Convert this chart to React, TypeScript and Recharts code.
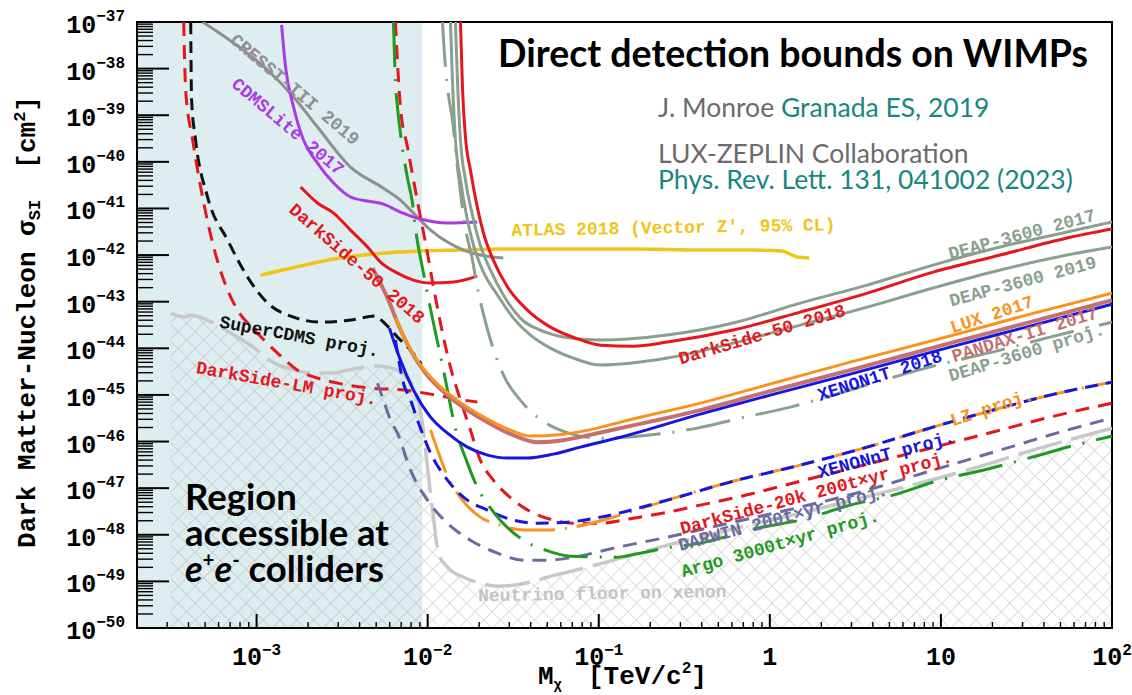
import React from "react";
import {
  ComposedChart,
  Line,
  Area,
  XAxis,
  YAxis,
  ReferenceArea,
  ReferenceDot,
} from "recharts";

const MONO = '"Liberation Mono", "DejaVu Sans Mono", monospace';
const LATO = 'Lato, "Noto Sans", sans-serif';

// WIMP mass in TeV/c^2, cross section in cm^2
const cresstMass = [4.84e-4, 7.34e-4, 1.16e-3, 1.645e-3, 2.27e-3, 3.54e-3, 5.37e-3, 6.93e-3, 8.26e-3, 1.04e-2, 1.305e-2, 1.62e-2, 2.03e-2, 2.77e-2];
const cresstSigma = [1e-37, 3.54e-38, 9.33e-39, 2.46e-39, 5.58e-40, 7.73e-41, 2.88e-41, 1.51e-41, 7.96e-42, 3.44e-42, 1.9e-42, 1.28e-42, 1.0e-42, 8.63e-43];

const cdmsMass = [1.4e-3, 1.477e-3, 1.645e-3, 1.88e-3, 2.27e-3, 2.82e-3, 3.54e-3, 4.45e-3, 5.52e-3, 6.93e-3, 9.08e-3, 1.305e-2, 1.95e-2];
const cdmsSigma = [8.63e-38, 1.08e-38, 1.5e-39, 2.94e-40, 9.42e-41, 3.51e-41, 1.76e-41, 1.44e-41, 1.24e-41, 8.37e-42, 5.93e-42, 4.86e-42, 5.11e-42];

const ds50LowMass = [1.81e-3, 2.27e-3, 2.82e-3, 3.54e-3, 4.45e-3, 5.3e-3, 6.66e-3, 8.26e-3, 1.04e-2, 1.415e-2, 1.95e-2];
const ds50LowSigma = [2.88e-41, 1.31e-41, 7.96e-42, 3.44e-42, 1.49e-42, 7.08e-43, 4.11e-43, 2.91e-43, 2.51e-43, 2.64e-43, 3.54e-43];

const ds50Mass = [1.555e-2, 1.597e-2, 1.663e-2, 1.778e-2, 1.95e-2, 2.12e-2, 2.42e-2, 2.93e-2, 3.83e-2, 5.22e-2, 7.3e-2, 0.1021, 0.159, 0.2517, 0.611, 1.505, 3.707, 9.0, 22.2, 54.6, 100];
const ds50Sigma = [1e-37, 4.03e-39, 3.4e-40, 6.67e-41, 1.07e-41, 2.96e-42, 7.82e-43, 2.06e-43, 6.61e-44, 2.85e-44, 1.66e-44, 1.17e-44, 1.11e-44, 1.36e-44, 2.46e-44, 5.98e-44, 1.53e-43, 4.32e-43, 1.0e-42, 2.32e-42, 3.61e-42];

const deap17Mass = [1.453e-2, 1.493e-2, 1.555e-2, 1.663e-2, 1.827e-2, 2.03e-2, 2.33e-2, 2.77e-2, 3.48e-2, 4.88e-2, 6.82e-2, 0.1021, 0.2517, 0.611, 1.505, 3.707, 9.0, 22.2, 54.6, 100];
const deap17Sigma = [1e-37, 5.69e-39, 2.94e-40, 4.07e-41, 7.21e-42, 1.64e-42, 4.77e-43, 1.39e-43, 4.45e-44, 2.23e-44, 1.66e-44, 1.5e-44, 1.92e-44, 3.48e-44, 9.33e-44, 2.27e-43, 6.1e-43, 1.49e-42, 3.12e-42, 5.11e-42];

const deap19Mass = [1.359e-2, 1.396e-2, 1.453e-2, 1.555e-2, 1.685e-2, 1.851e-2, 2.12e-2, 2.557e-2, 3.17e-2, 3.99e-2, 5.22e-2, 7.11e-2, 0.1021, 0.2517, 0.611, 1.505, 3.707, 9.0, 22.2, 54.6, 100];
const deap19Sigma = [1e-37, 5.69e-39, 2.94e-40, 4.07e-41, 7.21e-42, 1.64e-42, 4.32e-43, 1.39e-43, 4.45e-44, 1.92e-44, 1.01e-44, 6.17e-45, 4.37e-45, 6.17e-45, 1.29e-44, 3.15e-44, 7.66e-44, 1.96e-43, 4.77e-43, 1.0e-42, 1.49e-42];

const deapProjMass = [1.22e-2, 1.27e-2, 1.323e-2, 1.396e-2, 1.493e-2, 1.555e-2, 1.62e-2, 1.827e-2, 1.95e-2, 2.09e-2, 2.49e-2, 2.85e-2, 3.48e-2, 5.58e-2, 0.1021, 0.192, 0.377, 0.671, 1.315, 2.344, 4.41, 9.0, 22.2, 43.4, 100];
const deapProjSigma = [1e-37, 1.08e-38, 2.71e-39, 7.89e-40, 7.73e-41, 2.25e-41, 6.53e-42, 7.82e-43, 2.06e-43, 6.61e-44, 7.14e-45, 2.18e-45, 7.73e-46, 1.94e-46, 1.18e-46, 1.37e-46, 1.94e-46, 3.18e-46, 5.47e-46, 9.9e-46, 1.98e-45, 4.15e-45, 9.14e-45, 1.74e-44, 3.65e-44];

const atlasMass = [1.055e-3, 1.81e-3, 2.82e-3, 4.82e-3, 9.08e-3, 1.555e-2, 2.66e-2, 5.97e-2, 0.175, 0.392, 0.768, 1.18, 1.315, 1.445, 1.7];
const atlasSigma = [3.72e-43, 5.81e-43, 8.2e-43, 1.05e-42, 1.22e-42, 1.28e-42, 1.35e-42, 1.35e-42, 1.35e-42, 1.28e-42, 1.28e-42, 1.22e-42, 1.05e-42, 9.06e-43, 8.63e-43];

const superCdmsMass = [4.12e-4, 4.17e-4, 4.4e-4, 5.17e-4, 6.77e-4, 8.86e-4, 1.16e-3, 1.645e-3, 2.365e-3, 3.54e-3, 4.89e-3, 5.59e-3, 6.66e-3, 7.94e-3, 9.2e-3];
const superCdmsSigma = [1e-37, 2.12e-39, 2.94e-40, 1.76e-41, 2.1e-42, 3.37e-43, 9.33e-44, 4.68e-44, 3.65e-44, 4.03e-44, 4.91e-44, 3.48e-44, 1.74e-44, 9.14e-45, 4.58e-45];

const dsLmMass = [3.75e-4, 3.85e-4, 4.23e-4, 4.71e-4, 5.61e-4, 6.59e-4, 7.74e-4, 9.73e-4, 1.326e-3, 1.736e-3, 2.27e-3, 2.97e-3, 4.63e-3, 7.32e-3, 1.04e-2, 1.493e-2, 1.95e-2];
const dsLmSigma = [1e-37, 3.48e-39, 2.94e-40, 2.88e-41, 1.49e-42, 2.27e-43, 6.61e-44, 2.46e-44, 7.89e-45, 3.4e-45, 2.29e-45, 1.79e-45, 1.4e-45, 1.27e-45, 1.04e-45, 8.13e-46, 7.02e-46];

const argoMass = [6.31e-3, 6.48e-3, 6.66e-3, 6.93e-3, 7.62e-3, 8.15e-3, 8.48e-3, 9.45e-3, 1.011e-2, 1.081e-2, 1.237e-2, 1.323e-2, 1.415e-2, 1.708e-2, 1.95e-2, 2.33e-2, 3.63e-2, 4.88e-2, 6.82e-2, 0.125, 0.175, 0.245, 0.392, 0.844, 1.505, 2.95, 5.26, 9.89, 17.6, 34.1, 60.8, 100];
const argoSigma = [1e-37, 5.16e-39, 1.5e-39, 4.15e-40, 4.49e-41, 1.31e-41, 3.79e-42, 4.11e-43, 1.14e-43, 3.48e-44, 3.4e-45, 9.9e-46, 2.88e-46, 3.44e-47, 1.05e-47, 3.72e-48, 7.66e-49, 4.68e-49, 3.48e-49, 3.3e-49, 4.03e-49, 5.16e-49, 6.61e-49, 1.39e-48, 2.06e-48, 4.32e-48, 7.08e-48, 1.49e-47, 2.43e-47, 4.62e-47, 8.38e-47, 1.31e-46];

const ds20kMass = [6.48e-3, 6.93e-3, 7.62e-3, 8.26e-3, 9.08e-3, 9.97e-3, 1.081e-2, 1.156e-2, 1.359e-2, 1.555e-2, 1.778e-2, 2.03e-2, 2.42e-2, 3.17e-2, 4.15e-2, 5.43e-2, 7.11e-2, 0.1021, 0.159, 0.2517, 0.392, 0.611, 1.505, 3.707, 11.3, 22.2, 43.4, 100];
const ds20kSigma = [1e-37, 1.5e-39, 2.08e-40, 4.07e-41, 6.53e-42, 1.1e-42, 2.06e-43, 5.69e-44, 3.95e-45, 7.73e-46, 1.76e-46, 3.99e-47, 1.49e-47, 5.53e-48, 2.91e-48, 2.06e-48, 1.77e-48, 1.77e-48, 2.27e-48, 3.05e-48, 4.32e-48, 6.11e-48, 1.41e-47, 3.27e-47, 9.25e-47, 1.76e-46, 3.34e-46, 6.67e-46];

const xenon1tMass = [5.98e-3, 6.93e-3, 8.26e-3, 1.04e-2, 1.305e-2, 1.708e-2, 2.24e-2, 2.93e-2, 3.83e-2, 5.43e-2, 7.81e-2, 0.134, 0.392, 1.005, 2.95, 11.3, 33.2, 100];
const xenon1tSigma = [2.71e-44, 5.58e-45, 1.27e-45, 3.34e-46, 1.51e-46, 7.59e-47, 5.11e-47, 4.41e-47, 4.41e-47, 5.37e-47, 7.59e-47, 1.24e-46, 3.87e-46, 9.9e-46, 2.79e-45, 1.06e-44, 2.99e-44, 8.87e-44];

const luxMass = [6.48e-3, 7.42e-3, 8.84e-3, 1.081e-2, 1.359e-2, 2.03e-2, 3.05e-2, 3.99e-2, 6.21e-2, 9.81e-2, 0.134, 0.392, 1.005, 2.95, 11.3, 33.2, 100];
const luxSigma = [4.45e-44, 1.5e-44, 5.06e-45, 2.08e-45, 9.9e-46, 3.69e-46, 1.76e-46, 1.31e-46, 1.44e-46, 1.94e-46, 2.61e-46, 6.67e-46, 1.71e-45, 5.06e-45, 1.83e-44, 5.42e-44, 1.53e-43];

const pandaxMass = [4.76e-3, 5.9e-3, 6.75e-3, 7.94e-3, 9.71e-3, 1.305e-2, 2.03e-2, 3.17e-2, 4.38e-2, 6.21e-2, 9.81e-2, 0.134, 0.392, 1.005, 2.95, 11.3, 33.2, 100];
const pandaxSigma = [5.26e-43, 1.08e-43, 3.15e-44, 9.14e-45, 2.94e-45, 9.9e-46, 3.18e-46, 1.37e-46, 9.7e-47, 1.07e-46, 1.51e-46, 1.94e-46, 4.72e-46, 1.21e-45, 3.4e-45, 1.29e-44, 3.65e-44, 1.08e-43];

const xenonNtMass = [6.48e-3, 7.22e-3, 7.94e-3, 8.72e-3, 1.04e-2, 1.305e-2, 1.62e-2, 2.24e-2, 3.17e-2, 4.38e-2, 6.56e-2, 0.1021, 0.2517, 0.611, 1.505, 3.707, 9.0, 22.2, 43.4, 100];
const xenonNtSigma = [1.5e-44, 1.79e-45, 7.73e-46, 2.88e-46, 5.64e-47, 1.49e-47, 6.41e-48, 3.37e-48, 2.06e-48, 1.77e-48, 1.86e-48, 2.39e-48, 5.53e-48, 1.41e-47, 3.12e-47, 7.59e-47, 2.04e-46, 5.21e-46, 9.9e-46, 1.88e-45];

const lzMass = [1.04e-2, 1.188e-2, 1.323e-2, 1.597e-2, 2.03e-2, 2.66e-2, 3.63e-2, 5.01e-2, 7.11e-2, 0.1217, 0.2517, 0.611, 1.505, 3.707, 9.0, 22.2, 43.4, 100];
const lzSigma = [1.76e-46, 4.41e-47, 1.64e-47, 5.53e-48, 2.39e-48, 1.61e-48, 1.26e-48, 1.26e-48, 1.46e-48, 2.39e-48, 5.53e-48, 1.41e-47, 3.12e-47, 7.59e-47, 2.04e-46, 5.21e-46, 9.9e-46, 1.88e-45];

const darwinMass = [5.09e-3, 5.59e-3, 6.06e-3, 6.66e-3, 7.94e-3, 9.97e-3, 1.305e-2, 1.778e-2, 2.557e-2, 3.63e-2, 5.01e-2, 7.11e-2, 0.1217, 0.2517, 0.611, 1.505, 3.707, 9.0, 22.2, 54.6, 100];
const darwinSigma = [1.79e-45, 6.67e-46, 2.88e-46, 1.51e-46, 2.43e-47, 5.53e-48, 1.77e-48, 7.66e-49, 4.03e-49, 2.85e-49, 2.85e-49, 3.3e-49, 5.16e-49, 8.87e-49, 1.86e-48, 3.91e-48, 9.06e-48, 2.43e-47, 6.55e-47, 1.76e-46, 3.18e-46];

const floorMass = [3.15e-4, 3.8e-4, 4.12e-4, 5.17e-4, 6.16e-4, 7.74e-4, 9.73e-4, 1.084e-3, 1.274e-3, 1.517e-3, 1.907e-3, 2.27e-3, 2.71e-3, 3.4e-3, 4.27e-3, 4.89e-3, 5.82e-3, 6.66e-3, 7.62e-3, 8.72e-3, 9.32e-3, 9.97e-3, 1.081e-2, 1.156e-2, 1.305e-2, 1.62e-2, 2.03e-2, 2.557e-2, 3.17e-2, 3.99e-2, 5.01e-2, 6.56e-2, 8.58e-2, 0.134, 0.2517, 0.671, 1.505, 5.78, 14.2, 34.5, 100];
const floorSigma = [5.69e-44, 4.68e-44, 5.15e-44, 4.03e-44, 2.85e-44, 1.74e-44, 1.01e-44, 7.14e-45, 4.81e-45, 3.76e-45, 3.08e-45, 2.94e-45, 2.94e-45, 3.4e-45, 3.95e-45, 4.15e-45, 3.95e-45, 3.4e-45, 2.29e-45, 8.53e-46, 2.48e-46, 2.82e-47, 2.39e-48, 4.03e-49, 2.02e-49, 1.23e-49, 9.14e-50, 7.89e-50, 8.3e-50, 9.62e-50, 1.23e-49, 1.58e-49, 2.02e-49, 3.15e-49, 5.98e-49, 1.46e-48, 2.91e-48, 1.0e-47, 2.43e-47, 6.55e-47, 1.94e-46];

// e+e- collider reach (shaded band)
const colliderMass = [2e-4, 9.3e-3];
const colliderSigma = [1e-37, 1e-37];

// axis ticks
const xMajorTicks = [1e-3, 1e-2, 1e-1, 1, 10, 100];
const xMinorDecades = [-4, -3, -2, -1, 0, 1];
const yMajorExponents = [-37, -38, -39, -40, -41, -42, -43, -44, -45, -46, -47, -48, -49, -50];
const minorSteps = [2, 3, 4, 5, 6, 7, 8, 9];

const X_DOMAIN: [number, number] = [2e-4, 100];
const Y_DOMAIN: [number, number] = [1e-50, 1e-37];

const xTicks = [
  ...xMajorTicks,
  ...xMinorDecades.flatMap((d) => minorSteps.map((k) => k * Math.pow(10, d))).filter((v) => v > 2.05e-4 && v < 100),
];
const yTicks = [
  ...yMajorExponents.map((e) => Math.pow(10, e)),
  ...yMajorExponents.slice(1).flatMap((e) => minorSteps.map((k) => k * Math.pow(10, e))),
];

const GRAY = "#8f8f8f";
const PURPLE = "#a93be6";
const RED = "#e5161c";
const GOLD = "#f2c318";
const DEAP = "#8aa08f";
const BLUE = "#1616e0";
const ORANGE = "#f7931e";
const ROSE = "#c57070";
const SLATE = "#6b6ba0";
const LIGHT = "#c8c8c8";
const GREEN = "#1f9a1f";
const TEAL = "#17877f";
const TEXTGRAY = "#6b6b6b";

const pts = (m: number[], s: number[]) => m.map((v, i) => ({ m: v, s: s[i] }));

type Curve = { id: string; m: number[]; s: number[]; color: string; width: number; dash?: string };

const curves: Curve[] = [
  { id: "floor", m: floorMass, s: floorSigma, color: LIGHT, width: 3.5, dash: "45 10" },
  { id: "atlas", m: atlasMass, s: atlasSigma, color: GOLD, width: 3.5 },
  { id: "cresst", m: cresstMass, s: cresstSigma, color: GRAY, width: 3 },
  { id: "cdms", m: cdmsMass, s: cdmsSigma, color: PURPLE, width: 3 },
  { id: "ds50low", m: ds50LowMass, s: ds50LowSigma, color: RED, width: 3 },
  { id: "supercdms", m: superCdmsMass, s: superCdmsSigma, color: "#111", width: 3, dash: "12 7" },
  { id: "dslm", m: dsLmMass, s: dsLmSigma, color: RED, width: 3, dash: "14 9" },
  { id: "deapproj", m: deapProjMass, s: deapProjSigma, color: DEAP, width: 3, dash: "45 12 2 12" },
  { id: "deap19", m: deap19Mass, s: deap19Sigma, color: DEAP, width: 3 },
  { id: "deap17", m: deap17Mass, s: deap17Sigma, color: DEAP, width: 3 },
  { id: "ds50", m: ds50Mass, s: ds50Sigma, color: RED, width: 3 },
  { id: "darwin", m: darwinMass, s: darwinSigma, color: SLATE, width: 3, dash: "14 9" },
  { id: "ds20k", m: ds20kMass, s: ds20kSigma, color: RED, width: 3, dash: "14 9" },
  { id: "lz", m: lzMass, s: lzSigma, color: ORANGE, width: 3, dash: "45 10 2 10" },
  { id: "xenonnt", m: xenonNtMass, s: xenonNtSigma, color: BLUE, width: 3, dash: "13 8" },
  { id: "argo", m: argoMass, s: argoSigma, color: GREEN, width: 3, dash: "45 12 2 12" },
  { id: "pandax", m: pandaxMass, s: pandaxSigma, color: ROSE, width: 4 },
  { id: "lux", m: luxMass, s: luxSigma, color: ORANGE, width: 3 },
  { id: "xenon1t", m: xenon1tMass, s: xenon1tSigma, color: BLUE, width: 3 },
];

const curveLabels = [
  { text: "CRESST-III 2019", m: 1.667e-3, s: 3.48e-39, angle: 40, color: GRAY },
  { text: "CDMSLite 2017", m: 1.517e-3, s: 5.58e-40, angle: 40, color: PURPLE },
  { text: "DarkSide-50 2018", m: 3.84e-3, s: 6.41e-43, angle: 41, color: RED },
  { text: "SuperCDMS proj.", m: 1.78e-3, s: 1.74e-44, angle: 10.5, color: "#111" },
  { text: "DarkSide-LM proj.", m: 1.5e-3, s: 1.71e-45, angle: 10, color: RED },
  { text: "ATLAS 2018 (Vector Z', 95% CL)", m: 0.273, s: 3.79e-42, angle: -1, color: GOLD },
  { text: "DEAP-3600 2017", m: 29.8, s: 2.69e-42, angle: -15, color: DEAP },
  { text: "DEAP-3600 2019", m: 30.2, s: 2.64e-43, angle: -15, color: DEAP },
  { text: "LUX 2017", m: 19.9, s: 5.15e-44, angle: -18, color: ORANGE },
  { text: "PANDAX-II 2017", m: 31.0, s: 1.92e-44, angle: -17, color: ROSE },
  { text: "DEAP-3600 proj.", m: 31.8, s: 7.89e-45, angle: -17, color: DEAP },
  { text: "XENON1T 2018", m: 4.41, s: 2.53e-45, angle: -18, color: BLUE },
  { text: "DarkSide-50 2018", m: 0.903, s: 1.92e-44, angle: -16.5, color: RED },
  { text: "LZ proj.", m: 19.9, s: 5.21e-46, angle: -18, color: ORANGE },
  { text: "XENONnT proj.", m: 4.79, s: 5.11e-47, angle: -15, color: BLUE },
  { text: "DarkSide-20k 200t×yr proj.", m: 1.87, s: 7.82e-48, angle: -15, color: RED },
  { text: "DARWIN 200t×yr proj.", m: 1.197, s: 2.27e-48, angle: -15, color: SLATE },
  { text: "Argo 3000t×yr proj.", m: 1.15, s: 6.28e-49, angle: -16, color: GREEN },
  { text: "Neutrino floor on xenon", m: 0.105, s: 5.31e-50, angle: -1, color: "#c4c4c4" },
];

const isMajor = (v: number) => {
  const e = Math.log10(v);
  return Math.abs(e - Math.round(e)) < 1e-6;
};

// eslint-disable-next-line @typescript-eslint/no-explicit-any
function YTick({ x, y, payload }: any) {
  const major = isMajor(payload.value);
  const e = Math.round(Math.log10(payload.value));
  return (
    <g>
      <line x1={x} x2={x + (major ? 32 : 16)} y1={y} y2={y} stroke="#000" strokeWidth={major ? 2 : 1.4} />
      {major && (
        <text x={x - 12} y={y + 11} textAnchor="end" fontFamily={MONO} fontWeight="bold" fill="#000">
          <tspan fontSize={25}>10</tspan>
          <tspan fontSize={16} dy={-12}>{`−${-e}`}</tspan>
        </text>
      )}
    </g>
  );
}

// eslint-disable-next-line @typescript-eslint/no-explicit-any
function XTick({ x, y, payload }: any) {
  const major = isMajor(payload.value);
  const e = Math.round(Math.log10(payload.value));
  let label: React.ReactNode = null;
  if (major) {
    if (e === 0) label = <tspan fontSize={25}>1</tspan>;
    else if (e === 1) label = <tspan fontSize={25}>10</tspan>;
    else
      label = (
        <>
          <tspan fontSize={25}>10</tspan>
          <tspan fontSize={16} dy={-10}>{e < 0 ? `−${-e}` : `${e}`}</tspan>
        </>
      );
  }
  return (
    <g>
      <line x1={x} x2={x} y1={y} y2={y - (major ? 14 : 6)} stroke="#000" strokeWidth={major ? 2 : 1.4} />
      {major && (
        <text x={x} y={y + 37} textAnchor="middle" fontFamily={MONO} fontWeight="bold" fill="#000">
          {label}
        </text>
      )}
    </g>
  );
}

function labelShape(text: string, angle: number, color: string) {
  // eslint-disable-next-line @typescript-eslint/no-explicit-any
  return (p: any) => (
    <text
      x={p.cx}
      y={p.cy}
      transform={`rotate(${angle} ${p.cx} ${p.cy})`}
      textAnchor="middle"
      dominantBaseline="central"
      fontFamily={MONO}
      fontWeight="bold"
      fontSize={18}
      fill={color}
    >
      {text}
    </text>
  );
}

export default function App() {
  return (
    <div style={{ position: "absolute", left: 0, top: 0, width: 1132, height: 695, background: "#fff" }}>
      <ComposedChart width={1132} height={695} margin={{ top: 22, right: 20, bottom: 0, left: 0 }}>
        <defs>
          <pattern id="hatch" width="12" height="12" patternUnits="userSpaceOnUse" patternTransform="rotate(45)">
            <path d="M0 0 L12 0 M0 0 L0 12" stroke="rgba(130,130,130,0.35)" strokeWidth="1.6" />
          </pattern>
        </defs>
        <XAxis
          type="number"
          dataKey="m"
          scale="log"
          domain={X_DOMAIN}
          allowDataOverflow
          ticks={xTicks}
          interval={0}
          tick={XTick}
          tickLine={false}
          tickSize={0}
          tickMargin={0}
          axisLine={{ stroke: "#000", strokeWidth: 2 }}
          height={67}
        />
        <YAxis
          type="number"
          dataKey="s"
          scale="log"
          domain={Y_DOMAIN}
          allowDataOverflow
          ticks={yTicks}
          interval={0}
          tick={YTick}
          tickLine={false}
          tickSize={0}
          tickMargin={0}
          axisLine={{ stroke: "#000", strokeWidth: 2 }}
          width={137}
        />
        <Area
          data={pts(colliderMass, colliderSigma)}
          dataKey="s"
          type="linear"
          stroke="none"
          fill="#deeef0"
          fillOpacity={1}
          baseValue={1e-50}
          isAnimationActive={false}
          dot={false}
          activeDot={false}
        />
        <Area
          data={pts(floorMass, floorSigma)}
          dataKey="s"
          type="monotone"
          stroke="none"
          fill="url(#hatch)"
          fillOpacity={1}
          baseValue={1e-50}
          isAnimationActive={false}
          dot={false}
          activeDot={false}
        />
        {curves.map((c) => (
          <Line
            key={c.id}
            data={pts(c.m, c.s)}
            dataKey="s"
            type="monotone"
            stroke={c.color}
            strokeWidth={c.width}
            strokeDasharray={c.dash}
            dot={false}
            activeDot={false}
            isAnimationActive={false}
          />
        ))}
        <ReferenceArea
          x1={X_DOMAIN[0]}
          x2={X_DOMAIN[1]}
          y1={Y_DOMAIN[0]}
          y2={Y_DOMAIN[1]}
          fill="none"
          fillOpacity={0}
          stroke="#000"
          strokeWidth={2}
        />
        {curveLabels.map((l, i) => (
          <ReferenceDot key={i} x={l.m} y={l.s} r={0} shape={labelShape(l.text, l.angle, l.color)} />
        ))}
      </ComposedChart>

      <svg width={1132} height={695} style={{ position: "absolute", left: 0, top: 0, pointerEvents: "none" }}>
        <text x={498} y={67} fontFamily={LATO} fontWeight={700} fontSize={37.5} fill="#000">
          Direct detection bounds on WIMPs
        </text>
        <text x={658} y={117} fontFamily={LATO} fontSize={26.5} style={{ whiteSpace: "pre" }}>
          <tspan fill={TEXTGRAY}>J. Monroe </tspan>
          <tspan fill={TEAL}>Granada ES, 2019</tspan>
        </text>
        <text x={658} y={163} fontFamily={LATO} fontSize={26.5} fill={TEXTGRAY}>
          LUX-ZEPLIN Collaboration
        </text>
        <text x={658} y={189} fontFamily={LATO} fontSize={26.5} fill={TEAL}>
          Phys. Rev. Lett. 131, 041002 (2023)
        </text>

        <g fontFamily={LATO} fontWeight={700} fontSize={36.5} fill="#000">
          <text x={185} y={510}>Region</text>
          <text x={185} y={546}>accessible at</text>
          <text x={185} y={582} style={{ whiteSpace: "pre" }}>
            <tspan fontStyle="italic">e</tspan>
            <tspan fontSize={20} dy={-15}>+</tspan>
            <tspan fontStyle="italic" dy={15}>e</tspan>
            <tspan fontSize={20} dy={-15}>-</tspan>
            <tspan dy={15}> colliders</tspan>
          </text>
        </g>

        <text
          transform="rotate(-90)"
          x={-322}
          y={35}
          textAnchor="middle"
          fontFamily={MONO}
          fontWeight="bold"
          fontSize={26}
          fill="#000"
          style={{ whiteSpace: "pre" }}
        >
          Dark Matter-Nucleon σ
          <tspan fontSize={17} dy={5}>SI</tspan>
          <tspan dy={-5}>  [cm</tspan>
          <tspan fontSize={17} dy={-10}>2</tspan>
          <tspan dy={10}>]</tspan>
        </text>

        <text x={538} y={684} fontFamily={MONO} fontWeight="bold" fontSize={26} fill="#000" style={{ whiteSpace: "pre" }}>
          M
          <tspan fontSize={14} dy={5}>χ</tspan>
          <tspan x={588} dy={-5}>[TeV/c</tspan>
          <tspan fontSize={16} dy={-11}>2</tspan>
          <tspan dy={11}>]</tspan>
        </text>
      </svg>
    </div>
  );
}
